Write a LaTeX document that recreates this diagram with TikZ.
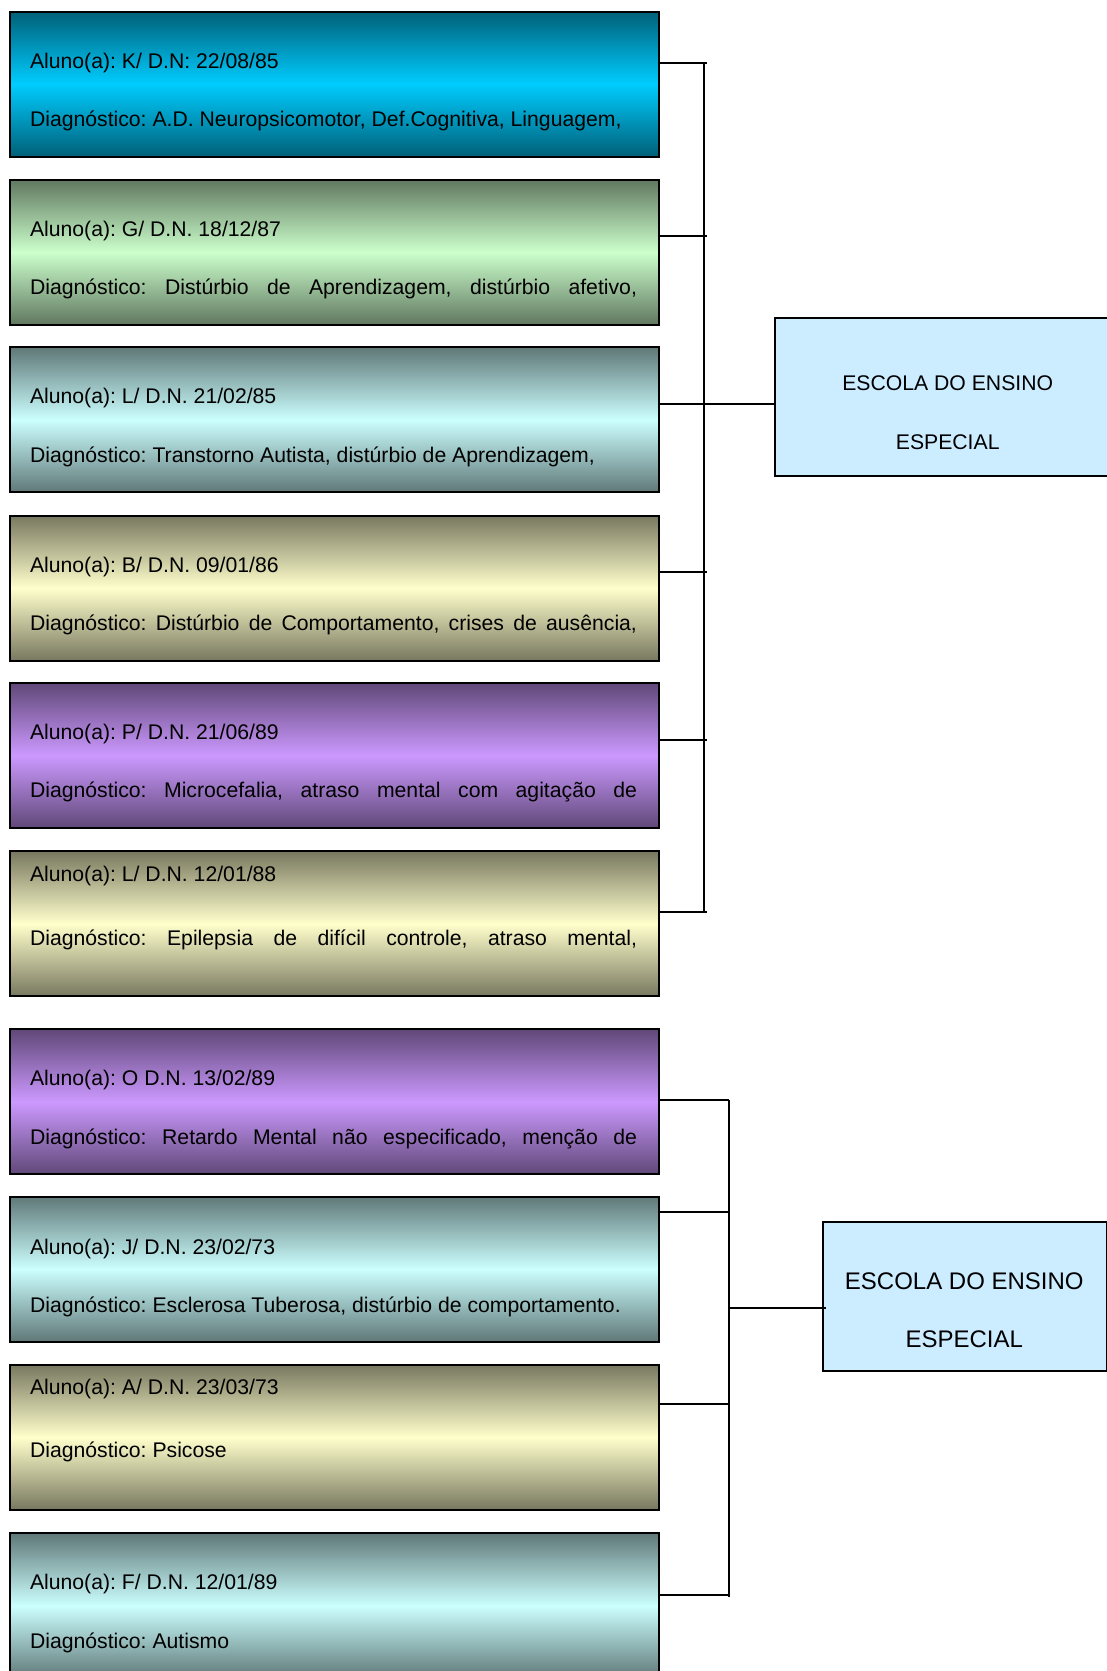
\documentclass[tikz,border=0pt]{standalone}
\usepackage{fontspec}
\setmainfont{Liberation Sans}
\usetikzlibrary{calc}
\frenchspacing

\definecolor{azulK}{HTML}{00CCFF}
\definecolor{verdeClaro}{HTML}{CCFFCC}
\definecolor{cianoClaro}{HTML}{CCFFFF}
\definecolor{creme}{HTML}{FFFFCC}
\definecolor{lilas}{HTML}{CC99FF}
\definecolor{azulEscola}{HTML}{CCECFF}

\begin{document}
\begin{tikzpicture}[x = 0.5pt, y = -0.5pt, % grid in pixels, y goes down
                line width = 1pt,
                font = \fontsize{10.6}{12.7}\selectfont
            ]

            \tikzset{
                ficha/.style = {draw = black, rectangle, anchor = north west,
                    inner sep = 0pt, minimum width = 324.5pt, minimum height = 72.5pt,
                    top color = #1!47!black, bottom color = #1!47!black, middle color = #1},
                linha/.style = {anchor = base west, inner sep = 0pt},
                escola/.style = {draw = black, fill = azulEscola, rectangle,
                    anchor = north west, inner sep = 0pt},
                rotulo/.style = {anchor = base, inner sep = 0pt}
            }

            \useasboundingbox (0,0) rectangle (1107,1671);

            % primeira escola
            \node[ficha = azulK] (k) at (8.5,10.5) {};
            \node[linha] (k-nome) at ($(k.north west)+(20.5,57.6)$) {Aluno(a): K/ D.N: 22/08/85};
            \node[linha] (k-diag) at ($(k.north west)+(20.5,116)$) {Diagnóstico: A.D. Neuropsicomotor, Def.Cognitiva, Linguagem,};

            \node[ficha = verdeClaro] (g) at (8.5,178.7) {};
            \node[linha] (g-nome) at ($(g.north west)+(20.5,57.6)$) {Aluno(a): G/ D.N. 18/12/87};
            \node[linha] (g-diag) at ($(g.north west)+(20.5,116)$) {\makebox[303.5pt][s]{Diagnóstico: Distúrbio de Aprendizagem, distúrbio afetivo,}};

            \node[ficha = cianoClaro] (l1) at (8.5,346.3) {};
            \node[linha] (l1-nome) at ($(l1.north west)+(20.5,57.6)$) {Aluno(a): L/ D.N. 21/02/85};
            \node[linha] (l1-diag) at ($(l1.north west)+(20.5,116)$) {Diagnóstico: Transtorno Autista, distúrbio de Aprendizagem,};

            \node[ficha = creme] (b) at (8.5,514.6) {};
            \node[linha] (b-nome) at ($(b.north west)+(20.5,57.6)$) {Aluno(a): B/ D.N. 09/01/86};
            \node[linha] (b-diag) at ($(b.north west)+(20.5,116)$) {\makebox[303.5pt][s]{Diagnóstico: Distúrbio de Comportamento, crises de ausência,}};

            \node[ficha = lilas] (p) at (8.5,681.9) {};
            \node[linha] (p-nome) at ($(p.north west)+(20.5,57.6)$) {Aluno(a): P/ D.N. 21/06/89};
            \node[linha] (p-diag) at ($(p.north west)+(20.5,116)$) {\makebox[303.5pt][s]{Diagnóstico: Microcefalia, atraso mental com agitação de}};

            \node[ficha = creme] (l2) at (8.5,850.3) {};
            \node[linha] (l2-nome) at ($(l2.north west)+(20.5,30.9)$) {Aluno(a): L/ D.N. 12/01/88};
            \node[linha] (l2-diag) at ($(l2.north west)+(20.5,94.8)$) {\makebox[303.5pt][s]{Diagnóstico: Epilepsia de difícil controle, atraso mental,}};

            \node[escola, minimum width = 173.4pt, minimum height = 79pt] (esc1) at (774.3,317) {};
            \node[rotulo] (esc1-a) at ($(esc1.north west)+(173.4,73.8)$) {ESCOLA DO ENSINO};
            \node[rotulo] (esc1-b) at ($(esc1.north west)+(173.4,132.2)$) {ESPECIAL};

            \coordinate (s1) at (707,63);
            \coordinate (s2) at (707,236);
            \coordinate (s3) at (707,404);
            \coordinate (s4) at (707,572);
            \coordinate (s5) at (707,740);
            \coordinate (s6) at (707,912);
            \coordinate (barra1-topo) at (704,63);
            \coordinate (barra1-base) at (704,912);
            \coordinate (barra1-meio) at (704,404);

            \draw (k.east |- s1) -- (s1);
            \draw (g.east |- s2) -- (s2);
            \draw (l1.east |- s3) -- (s3);
            \draw (b.east |- s4) -- (s4);
            \draw (p.east |- s5) -- (s5);
            \draw (l2.east |- s6) -- (s6);
            \draw (barra1-topo) -- (barra1-base);
            \draw (barra1-meio) -- (esc1.west |- barra1-meio);

            % segunda escola
            \node[ficha = lilas] (o) at (8.5,1028.2) {};
            \node[linha] (o-nome) at ($(o.north west)+(20.5,57.6)$) {Aluno(a): O D.N. 13/02/89};
            \node[linha] (o-diag) at ($(o.north west)+(20.5,116)$) {\makebox[303.5pt][s]{Diagnóstico: Retardo Mental não especificado, menção de}};

            \node[ficha = cianoClaro] (j) at (8.5,1195.5) {};
            \node[linha] (j-nome) at ($(j.north west)+(20.5,58.6)$) {Aluno(a): J/ D.N. 23/02/73};
            \node[linha] (j-diag) at ($(j.north west)+(20.5,117.2)$) {Diagnóstico: Esclerosa Tuberosa, distúrbio de comportamento.};

            \node[ficha = creme] (a) at (8.5,1363.8) {};
            \node[linha] (a-nome) at ($(a.north west)+(20.5,30.9)$) {Aluno(a): A/ D.N. 23/03/73};
            \node[linha] (a-diag) at ($(a.north west)+(20.5,93.7)$) {Diagnóstico: Psicose};

            \node[ficha = cianoClaro] (f) at (8.5,1532.2) {};
            \node[linha] (f-nome) at ($(f.north west)+(20.5,57.6)$) {Aluno(a): F/ D.N. 12/01/89};
            \node[linha] (f-diag) at ($(f.north west)+(20.5,116.2)$) {Diagnóstico: Autismo};

            \node[escola, minimum width = 142.25pt, minimum height = 74.5pt] (esc2) at (821.5,1221) {};
            \node[rotulo, font = \fontsize{12}{14}\selectfont] (esc2-a) at ($(esc2.north west)+(142.8,68.3)$) {ESCOLA DO ENSINO};
            \node[rotulo, font = \fontsize{12}{14}\selectfont] (esc2-b) at ($(esc2.north west)+(142.8,126.9)$) {ESPECIAL};

            \coordinate (t1) at (729,1100);
            \coordinate (t2) at (729,1212);
            \coordinate (t3) at (729,1404);
            \coordinate (t4) at (729,1595);
            \coordinate (barra2-meio) at (729,1308);
            \coordinate (barra2-fim) at (826,1308);

            \draw (o.east |- t1) -- (t1);
            \draw (j.east |- t2) -- (t2);
            \draw (a.east |- t3) -- (t3);
            \draw (f.east |- t4) -- (t4);
            \draw (t1) -- ($(t4)+(0,2)$);
            \draw (barra2-meio) -- (barra2-fim);
\end{tikzpicture}
\end{document}
